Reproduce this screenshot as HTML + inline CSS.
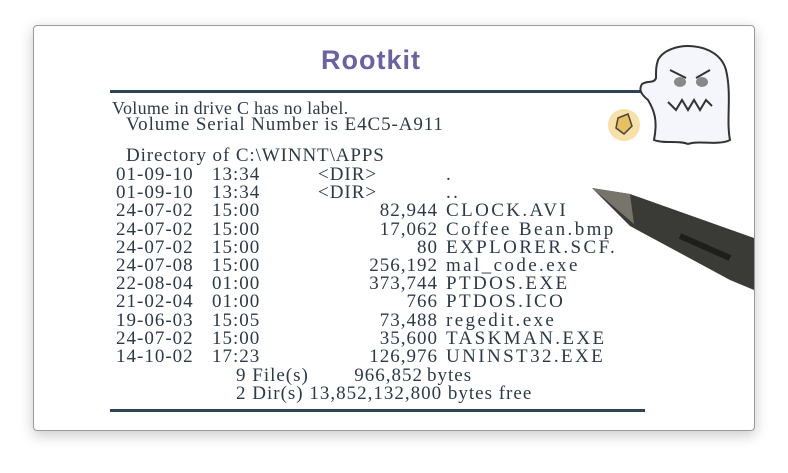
<!DOCTYPE html>
<html><head><meta charset="utf-8"><style>
html,body{margin:0;padding:0;width:788px;height:473px;background:#fff;overflow:hidden;}
.card{position:absolute;left:33px;top:25px;width:720px;height:404px;background:#fff;border:1px solid #9a9a9a;border-radius:4px;box-shadow:0 4px 14px rgba(0,0,0,.22);}
.t{position:absolute;font-family:"Liberation Serif",serif;font-size:19px;color:#2c3a48;white-space:pre;line-height:18.2px;letter-spacing:1px;}
.r{text-align:right;}
.line{position:absolute;height:3px;background:#2e4258;}
.title{position:absolute;left:321px;top:45px;font-family:"Liberation Sans",sans-serif;font-weight:bold;font-size:27px;color:#6a62a2;letter-spacing:1px;}
</style></head><body>
<div class="card"></div>
<div class="title">Rootkit</div>
<div class="line" style="left:110px;top:90px;width:535px;"></div>
<div class="line" style="left:110px;top:409px;width:535px;"></div>
<div class="t" style="left:112px;top:99px;font-size:18px;letter-spacing:0.3px;">Volume in drive C has no label.</div>
<div class="t" style="left:126px;top:116px;letter-spacing:0.9px;">Volume Serial Number is E4C5-A911</div>
<div class="t" style="left:126px;top:147px;letter-spacing:0.9px;">Directory of C:\WINNT\APPS</div>
<div class="t" style="left:116px;top:166px;">01-09-10
01-09-10
24-07-02
24-07-02
24-07-02
24-07-08
22-08-04
21-02-04
19-06-03
24-07-02
14-10-02</div>
<div class="t" style="left:212px;top:166px;">13:34
13:34
15:00
15:00
15:00
15:00
01:00
01:00
15:05
15:00
17:23</div>
<div class="t" style="left:318px;top:166px;">&lt;DIR&gt;
&lt;DIR&gt;</div>
<div class="t r" style="left:290px;width:148px;top:166px;">
 
82,944
17,062
80
256,192
373,744
766
73,488
35,600
126,976</div>
<div class="t" style="left:446px;top:166px;letter-spacing:2.4px;">.
..
CLOCK.AVI
Coffee Bean.bmp
EXPLORER.SCF.
mal_code.exe
PTDOS.EXE
PTDOS.ICO
regedit.exe
TASKMAN.EXE
UNINST32.EXE</div>
<div class="t" style="left:236px;top:367px;">9 File(s)</div>
<div class="t r" style="left:300px;width:123px;top:367px;">966,852</div>
<div class="t" style="left:427px;top:367px;">bytes</div>
<div class="t" style="left:236px;top:385px;">2 Dir(s) 13,852,132,800 bytes free</div>
<svg style="position:absolute;left:598px;top:40px" width="140" height="110" viewBox="0 0 140 110">
<circle cx="26" cy="85" r="16" fill="#f6d890" opacity=".8"/>
<path d="M20 78 L30 74 L34 86 L26 94 L18 88Z" fill="#e8c060" stroke="#444" stroke-width="1.5"/>
<path d="M60 20 C70 0 120 0 128 30 C134 55 128 80 132 100 C120 106 100 100 90 104 C80 100 66 104 56 100 C60 80 56 70 50 60 C44 55 40 50 44 44 C50 40 56 44 58 38 C58 30 58 26 60 20Z" fill="#f4f6fb" stroke="#333" stroke-width="2"/>
<path d="M72 30 L88 38 M98 38 L112 30" stroke="#333" stroke-width="2"/>
<ellipse cx="82" cy="42" rx="6" ry="5" fill="#888"/><ellipse cx="104" cy="42" rx="6" ry="5" fill="#888"/>
<path d="M70 62 L78 70 L84 60 L90 70 L96 60 L102 70 L108 60 L114 66" stroke="#333" stroke-width="2" fill="none"/>
</svg>
<svg style="position:absolute;left:590px;top:186px" width="164" height="110" viewBox="0 0 164 110">
<path d="M2 2 L40 8 L164 52 L164 104 L140 94 L40 40 Z" fill="#3a3a36"/>
<path d="M2 2 L40 8 L44 38 Z" fill="#77746c"/>
<path d="M90 50 L140 72" stroke="#1e1e1c" stroke-width="6"/>
</svg>
</body></html>
